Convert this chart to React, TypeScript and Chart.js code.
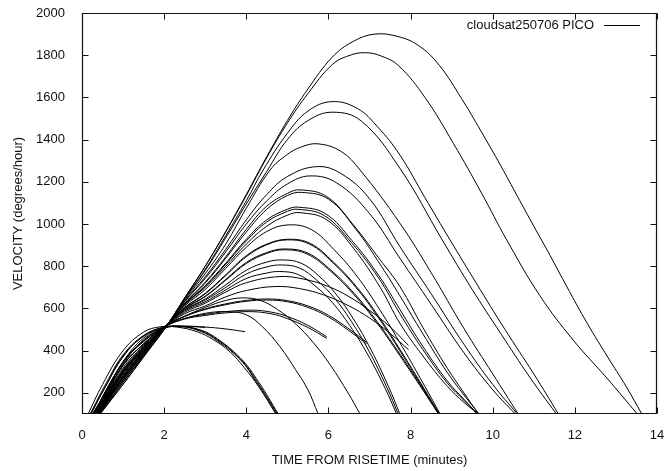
import React, { useEffect, useRef } from "react";
import { Chart, registerables } from "chart.js";

Chart.register(...registerables);

const xTickValues = [0, 2, 4, 6, 8, 10, 12, 14];
const yTickValues = [200, 400, 600, 800, 1000, 1200, 1400, 1600, 1800, 2000];
const legendLabel = "cloudsat250706 PICO";
const xTitle = "TIME FROM RISETIME (minutes)";
const yTitle = "VELOCITY (degrees/hour)";

// [minutes, degrees/hour], one array per pass
const passA1 = [[0.44,100],[1,240],[1.5,370],[2.05,514],[2.5,650],[3,800],[3.5,965],[4,1140],[4.5,1320],[5,1490],[5.5,1640],[6.09,1790],[6.6,1865],[7.13,1900],[7.7,1888],[8.2,1845],[8.7,1752],[9.24,1595],[9.7,1445],[10.2,1275],[10.6,1132],[11,990],[11.4,850],[11.8,705],[12.3,530],[12.8,370],[13.25,230],[13.63,100]];
const passA2 = [[0.44,100],[1,241],[1.5,371],[2.05,514],[2.5,650],[3,800],[3.5,963],[4,1135],[4.5,1315],[5,1478],[5.5,1618],[6.09,1755],[6.5,1798],[6.9,1812],[7.3,1795],[7.71,1750],[8.35,1600],[9.04,1383],[9.73,1146],[10.34,925],[11.15,660],[11.96,450],[12.78,270],[13.52,100]];
const passB1 = [[0.43,100],[1,250],[1.5,375],[2.05,514],[2.5,647],[3,785],[3.5,945],[4,1110],[4.41,1256],[5,1430],[5.5,1535],[6.08,1580],[6.7,1548],[7.2,1460],[7.74,1327],[8.35,1125],[8.96,925],[9.6,720],[10.3,500],[11,290],[11.6,100]];
const passB2 = [[0.43,100],[1,252],[1.5,377],[2.05,515],[2.5,645],[3,780],[3.5,935],[4,1095],[4.5,1250],[5,1400],[5.5,1490],[6.1,1530],[6.8,1488],[7.74,1264],[8.77,925],[9.5,690],[10.2,480],[10.9,275],[11.55,100]];
const passC1 = [[0.41,100],[1,258],[1.5,382],[2.05,515],[2.5,640],[3,765],[3.5,905],[4,1075],[4.58,1256],[5,1330],[5.35,1366],[5.75,1380],[6.3,1345],[6.77,1256],[7.74,1004],[8.5,770],[9.3,505],[10,290],[10.62,100]];
const passC2 = [[0.4,100],[1,262],[1.5,385],[2.05,516],[2.5,635],[3,750],[3.5,880],[4,1020],[4.5,1140],[5,1225],[5.71,1272],[6.3,1240],[7,1120],[7.74,893],[8.5,670],[9.3,430],[10,240],[10.6,100]];
const passC3 = [[0.4,100],[1,265],[1.5,387],[2.05,516],[2.5,632],[3,742],[3.5,868],[4,1000],[4.5,1110],[5,1190],[5.55,1228],[6.2,1195],[7,1050],[7.74,838],[8.5,620],[9.3,390],[10,215],[10.55,100]];
const passD1 = [[0.39,100],[1,270],[1.5,390],[2.05,517],[2.5,625],[3,725],[3.5,845],[4,975],[4.5,1085],[5,1145],[5.31,1162],[5.96,1130],[6.61,995],[7.26,830],[7.74,704],[8.3,510],[8.9,315],[9.3,200],[9.65,100]];
const passD2 = [[0.39,100],[1,271],[1.5,391],[2.05,517],[2.5,623],[3,720],[3.5,838],[4,962],[4.5,1070],[5,1135],[5.35,1150],[6,1118],[6.65,980],[7.29,800],[7.74,660],[8.3,480],[8.9,295],[9.3,190],[9.67,100]];
const passD3 = [[0.38,100],[1,276],[1.5,395],[2.05,517],[2.5,620],[3,708],[3.5,815],[4,928],[4.5,1020],[5,1070],[5.27,1080],[5.92,1050],[6.58,920],[7.23,755],[7.74,595],[8.3,420],[8.9,255],[9.3,170],[9.63,100]];
const passD4 = [[0.38,100],[1,277],[1.5,396],[2.05,517],[2.5,619],[3,705],[3.5,810],[4,920],[4.5,1010],[5,1060],[5.25,1070],[5.9,1040],[6.56,912],[7.22,745],[7.74,575],[8.3,405],[8.9,245],[9.3,165],[9.62,100]];
const passD5 = [[0.38,100],[1,278],[1.5,397],[2.05,518],[2.5,617],[3,700],[3.5,800],[4,905],[4.5,990],[5,1042],[5.31,1054],[5.96,1020],[6.61,885],[7.26,700],[7.74,530],[8.3,375],[8.9,230],[9.3,155],[9.65,100]];
const passE1 = [[0.37,100],[1,283],[1.5,400],[2.05,518],[2.5,612],[3,690],[3.5,790],[4,890],[4.5,965],[5.02,996],[5.58,974],[6.13,880],[6.69,754],[7.24,597],[7.8,418],[8.35,230],[8.72,100]];
const passE2 = [[0.36,100],[1,290],[1.5,404],[2.05,518],[2.5,605],[3,672],[3.5,760],[4,850],[4.5,905],[5.02,928],[5.57,907],[6.12,820],[6.68,704],[7.23,560],[7.78,394],[8.33,220],[8.7,100]];
const passE3 = [[0.36,100],[1,291],[1.5,405],[2.05,518],[2.5,603],[3,669],[3.5,756],[4,845],[4.5,902],[5,925],[5.55,904],[6.1,818],[6.66,702],[7.21,558],[7.76,393],[8.31,220],[8.68,100]];
const passE4 = [[0.35,100],[1,295],[1.5,407],[2.05,519],[2.5,600],[3,658],[3.5,738],[4,818],[4.5,865],[4.94,882],[5.5,862],[6.07,780],[6.63,671],[7.2,534],[7.76,378],[8.32,213],[8.7,100]];
const passE5 = [[0.35,100],[1,296],[1.5,408],[2.05,519],[2.5,599],[3,656],[3.5,734],[4,813],[4.5,861],[4.92,878],[5.48,858],[6.05,777],[6.61,668],[7.18,532],[7.74,376],[8.3,213],[8.68,100]];
const passF1 = [[0.34,100],[1,300],[1.5,412],[2.05,520],[2.5,595],[3,645],[3.5,712],[4,781],[4.5,820],[4.9,830],[5.33,815],[5.75,757],[6.18,669],[6.6,553],[7.03,407],[7.46,231],[7.74,100]];
const passF2 = [[0.34,100],[1,303],[1.5,414],[2.05,520],[2.5,592],[3,640],[3.5,700],[4,763],[4.5,797],[4.86,806],[5.29,792],[5.71,735],[6.14,651],[6.56,538],[6.99,397],[7.42,227],[7.7,100]];
const passF3 = [[0.33,100],[1,307],[1.5,416],[2.05,520],[2.5,588],[3,632],[3.5,688],[4,742],[4.5,768],[4.82,775],[5.25,762],[5.67,708],[6.1,627],[6.52,519],[6.95,384],[7.38,222],[7.66,100]];
const passG1 = [[0.3,100],[1,330],[1.5,433],[2.05,519],[2.5,563],[3,605],[3.5,638],[3.9,650],[4.33,639],[4.76,595],[5.19,529],[5.62,441],[6.05,331],[6.48,199],[6.77,100]];
const passH1 = [[0.27,100],[1,345],[1.5,447],[2.05,517],[2.5,552],[3,577],[3.5,585],[4,570],[4.4,512],[4.82,419],[5.2,310],[5.5,215],[5.75,100]];
const passT3a = [[0.27,100],[1,347],[1.5,446],[2.05,517],[2.5,550],[3,567],[3.5,579],[4.1,585],[4.6,575],[5,552],[5.5,510],[5.96,458]];
const passT3b = [[0.28,100],[1,343],[1.5,443],[2.05,518],[2.5,553],[3,572],[3.5,585],[4.15,592],[4.6,583],[5,562],[5.5,520],[5.96,466]];
const passT4a = [[0.3,100],[1,331],[1.5,432],[2.05,519],[2.5,562],[3,595],[3.5,618],[4,634],[4.5,640],[5,632],[5.5,605],[6,560],[6.5,495],[6.93,432]];
const passT4b = [[0.3,100],[1,330],[1.5,431],[2.05,519],[2.5,564],[3,598],[3.5,622],[4,638],[4.5,645],[5,637],[5.5,612],[6,568],[6.5,503],[6.93,440]];
const passT5a = [[0.32,100],[1,318],[1.5,425],[2.05,519],[2.5,575],[3,612],[3.5,655],[4,685],[4.7,704],[5.3,694],[5.9,663],[6.5,612],[7,555],[7.5,482],[7.95,405]];
const passT5b = [[0.33,100],[1,310],[1.5,420],[2.05,519],[2.5,582],[3,625],[3.5,678],[4,722],[4.8,751],[5.4,739],[6,704],[6.5,656],[7,591],[7.5,513],[7.95,425]];
const passL1 = [[0.15,100],[0.5,240],[1,400],[1.5,488],[1.9,513],[2.3,512],[2.8,490],[3.2,452],[3.6,395],[3.95,320],[4.3,230],[4.72,100]];
const passL2 = [[0.2,100],[0.5,205],[1,370],[1.5,470],[2,510],[2.4,514],[2.8,498],[3.2,460],[3.85,358],[4.25,250],[4.74,100]];
const passL3 = [[0.25,100],[0.6,210],[1,348],[1.5,460],[2,508],[2.4,515],[2.8,501],[3.2,465],[3.85,362],[4.28,248],[4.76,100]];
const passL4 = [[0.28,100],[0.6,195],[1,335],[1.5,452],[2,506],[2.4,516],[2.8,503],[3.2,469],[3.85,366],[4.3,252],[4.78,100]];
const passS1 = [[0.2,100],[0.6,250],[1,380],[1.5,472],[2,512],[2.5,516],[3,510]];
const passS2 = [[0.22,100],[0.6,240],[1,375],[1.5,468],[2,510],[2.5,516],[3,512],[3.5,503],[3.97,490]];

const passes = [
  passA1, passA2, passB1, passB2, passC1, passC2, passC3,
  passD1, passD2, passD3, passD4, passD5,
  passE1, passE2, passE3, passE4, passE5,
  passF1, passF2, passF3, passG1, passH1,
  passT3a, passT3b, passT4a, passT4b, passT5a, passT5b,
  passL1, passL2, passL3, passL4, passS1, passS2,
];

const FONT = '"Liberation Sans", Arial, Helvetica, sans-serif';
const INK = "#111";

export default function App() {
  const ref = useRef<HTMLCanvasElement>(null);

  useEffect(() => {
    if (!ref.current) return;
    const datasets = passes.map((p, i) => ({
      label: i === 0 ? legendLabel : "",
      data: p.map(([x, y]) => ({ x, y })),
      borderColor: "#000",
      borderWidth: 1,
      pointRadius: 0,
      pointHoverRadius: 0,
      fill: false,
      tension: 0.4,
    }));

    const framePlugin = {
      id: "gnuFrame",
      afterDraw(chart: any) {
        const { ctx, chartArea: a, scales } = chart;
        ctx.save();
        ctx.strokeStyle = INK;
        ctx.lineWidth = 1.2;
        const L = Math.round(a.left) + 0.5;
        const R = Math.round(a.right) - 0.5;
        const T = Math.round(a.top) + 0.5;
        const B = Math.round(a.bottom) - 0.5;
        ctx.beginPath();
        ctx.rect(L, T, R - L, B - T);
        ctx.stroke();
        ctx.lineWidth = 1;
        ctx.beginPath();
        const tl = 6;
        for (const v of xTickValues) {
          const px = Math.round(scales.x.getPixelForValue(v)) + 0.5;
          ctx.moveTo(px, B);
          ctx.lineTo(px, B - tl);
          ctx.moveTo(px, T);
          ctx.lineTo(px, T + tl);
        }
        for (const v of yTickValues) {
          const py = Math.round(scales.y.getPixelForValue(v)) + 0.5;
          ctx.moveTo(L, py);
          ctx.lineTo(L + tl, py);
          ctx.moveTo(R, py);
          ctx.lineTo(R - tl, py);
        }
        ctx.stroke();
        // key
        ctx.font = `13px ${FONT}`;
        ctx.fillStyle = INK;
        ctx.textAlign = "right";
        ctx.textBaseline = "middle";
        ctx.fillText(legendLabel, a.right - 63, a.top + 12);
        ctx.strokeStyle = "#000";
        ctx.beginPath();
        ctx.moveTo(a.right - 53, Math.round(a.top + 12) + 0.5);
        ctx.lineTo(a.right - 17, Math.round(a.top + 12) + 0.5);
        ctx.stroke();
        ctx.restore();
      },
    };

    const chart = new Chart(ref.current, {
      type: "line",
      data: { datasets },
      options: {
        animation: false,
        responsive: true,
        maintainAspectRatio: false,
        layout: { padding: { top: 13, right: 7, left: 0, bottom: 0 } },
        plugins: { legend: { display: false }, tooltip: { enabled: false } },
        events: [],
        scales: {
          x: {
            type: "linear",
            min: 0,
            max: 14,
            afterBuildTicks: (s: any) => {
              s.ticks = xTickValues.map((v) => ({ value: v }));
            },
            afterFit: (s: any) => {
              s.height = 57;
              s.paddingLeft = 0;
              s.paddingRight = 0;
            },
            grid: { display: false },
            border: { display: false },
            ticks: { padding: 6, color: INK, font: { family: FONT, size: 13 }, maxRotation: 0, autoSkip: false, callback: (v: any) => String(v) },
            title: { display: true, text: xTitle, color: INK, font: { family: FONT, size: 13 }, padding: { top: 0, bottom: 3 } },
          },
          y: {
            type: "linear",
            min: 100,
            max: 2000,
            afterBuildTicks: (s: any) => {
              s.ticks = yTickValues.map((v) => ({ value: v }));
            },
            afterFit: (s: any) => {
              s.width = 82;
              s.paddingTop = 0;
              s.paddingBottom = 0;
            },
            grid: { display: false },
            border: { display: false },
            ticks: { padding: 9, color: INK, font: { family: FONT, size: 13 }, autoSkip: false, callback: (v: any) => String(v) },
            title: { display: true, text: yTitle, color: INK, font: { family: FONT, size: 13 }, padding: { top: 11, bottom: 0 } },
          },
        },
      },
      plugins: [framePlugin],
    } as any);

    return () => chart.destroy();
  }, []);

  return (
    <div style={{ position: "fixed", left: 0, top: 0, width: 664, height: 471, background: "#fff" }}>
      <canvas ref={ref} />
    </div>
  );
}
